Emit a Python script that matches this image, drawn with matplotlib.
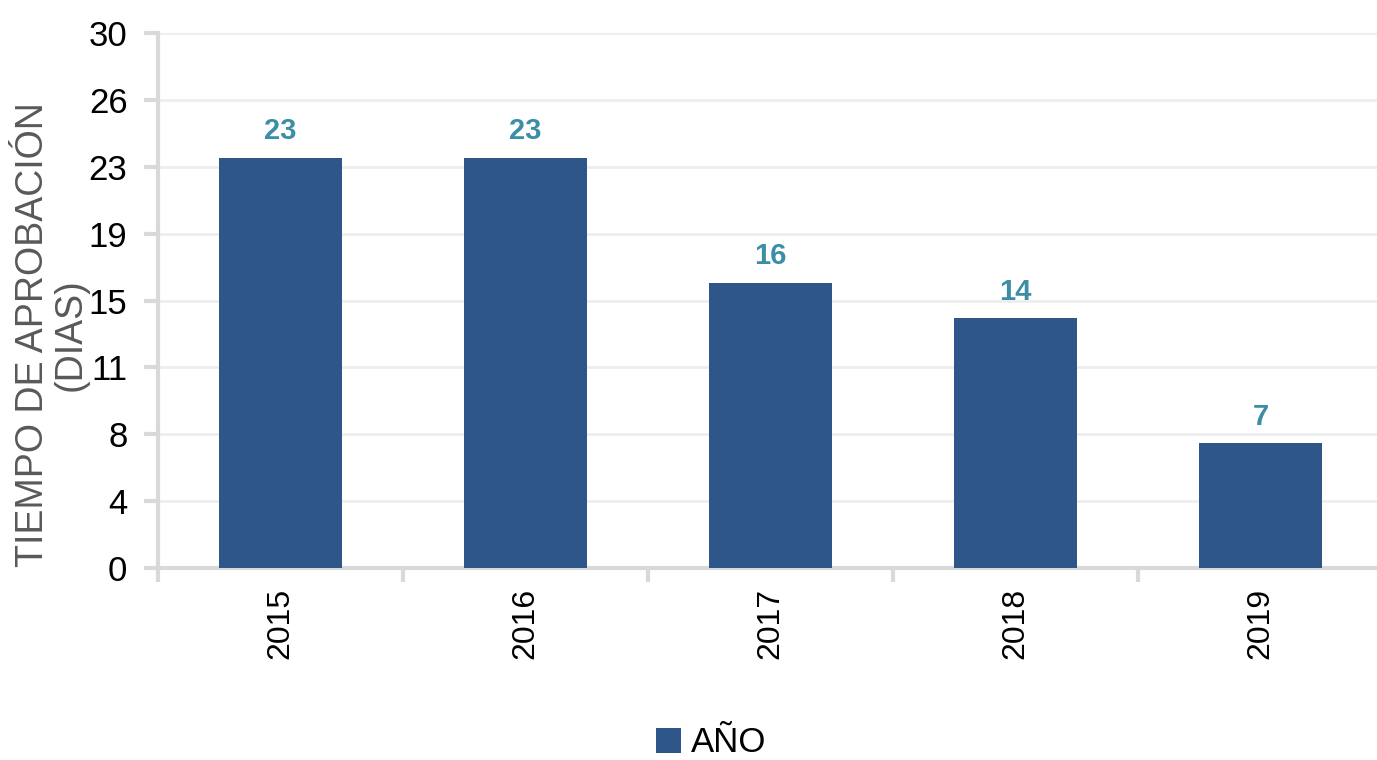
import matplotlib
matplotlib.use("Agg")
import matplotlib.pyplot as plt
from matplotlib.patches import Patch

plt.rcParams['font.family'] = ['Liberation Sans', 'DejaVu Sans']

years = ["2015", "2016", "2017", "2018", "2019"]
dias = [23, 23, 16, 14, 7]
y_ticks = [0, 3.75, 7.5, 11.25, 15, 18.75, 22.5, 26.25, 30]
y_tick_labels = ["0", "4", "8", "11", "15", "19", "23", "26", "30"]
series_name = "AÑO"
y_label = "TIEMPO DE APROBACIÓN\n(DIAS)"

bar_color = "#2e5688"
label_color = "#3b8ea5"
axis_color = "#d9d9d9"
grid_color = "#eeeeee"

fig = plt.figure(figsize=(13.77, 7.6), dpi=100)
ax = fig.add_axes([158/1377, 1 - 568/760, (1383-158)/1377, (568-33)/760])

x = list(range(len(years)))
bars = ax.bar(x, dias, width=0.5, color=bar_color, zorder=3)
ax.set_xlim(-0.5, len(years) - 0.5)
ax.set_ylim(0, 30)

ax.set_yticks(y_ticks)
ax.set_yticklabels(y_tick_labels, fontsize=25)
ax.set_xticks(x)
ax.set_xticklabels(years, rotation=90, fontsize=23)
ax.tick_params(axis='x', length=0, pad=14)
ax.tick_params(axis='y', length=10, width=3, color=axis_color, pad=12)

# category boundary ticks on x axis
ax.set_xticks([i - 0.5 for i in range(len(years) + 1)], minor=True)
ax.tick_params(axis='x', which='minor', length=10, width=3, color=axis_color)

ax.grid(axis='y', color=grid_color, linewidth=2, zorder=0)
for s in ['top', 'right']:
    ax.spines[s].set_visible(False)
for s in ['left', 'bottom']:
    ax.spines[s].set_color(axis_color)
    ax.spines[s].set_linewidth(3)

for xi, v in zip(x, dias):
    ax.annotate(str(v), (xi, v), xytext=(0, 9), textcoords='offset points',
                ha='center', va='bottom', fontsize=21, fontweight='bold',
                color=label_color)

fig.text(52/1377, 1 - 335/760, y_label, rotation=90, ha='center', va='center',
         multialignment='center', fontsize=27, color="#595959", linespacing=1.05)

handle = Patch(facecolor=bar_color, label=series_name)
fig.legend(handles=[handle], loc='center', bbox_to_anchor=(711/1377, 1 - 743/760),
           frameon=False, fontsize=25, handlelength=0.72, handleheight=0.72,
           handletextpad=0.3, borderpad=0.1)

fig.savefig("out.png", dpi=100)
